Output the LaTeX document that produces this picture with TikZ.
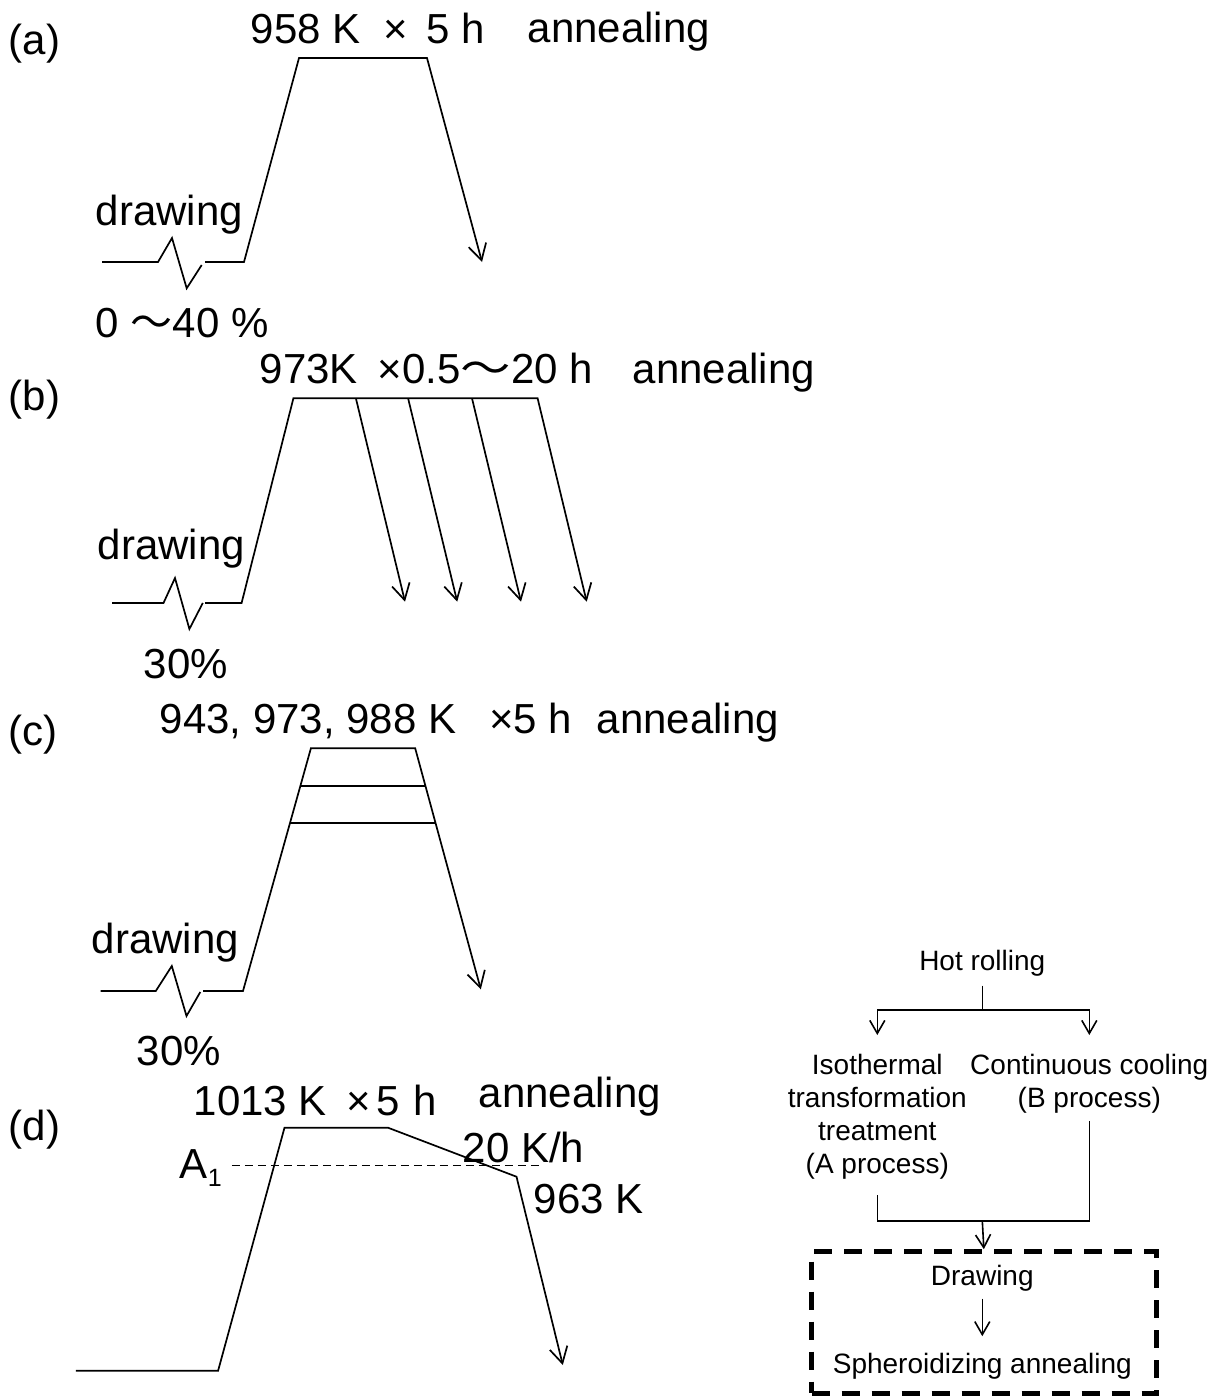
\documentclass[tikz,border=0pt]{standalone}
\usepackage{fontspec}
\setmainfont{Liberation Sans}
\newfontfamily\cjk{Noto Sans CJK JP}
\usetikzlibrary{arrows.meta}
\newcommand{\wave}{{\cjk ～}}
\newcommand{\widewave}{\scalebox{1.2}[1]{\cjk ～}}
\begin{document}
\begin{tikzpicture}[x=1pt, y=-1pt, line width=1.7pt, line join=miter,
  big/.style={font=\fontsize{42}{50}\selectfont, inner sep=0pt, anchor=base west},
  anneal/.style={big},
  small/.style={font=\fontsize{28}{33.1}\selectfont, inner sep=0pt},
  cool/.style={-{Straight Barb[length=16pt, width=18pt]}},
  flow/.style={line width=1.6pt},
  farrow/.style={flow, -{Straight Barb[length=13pt, width=15pt]}},
  frame/.style={draw, line width=5pt, dash pattern=on 18pt off 12pt, inner sep=0pt}]
\useasboundingbox (0,0) rectangle (1222,1398);

% ---------- (a) drawing + annealing at 958 K ----------
\node[big] (la) at (8,54) {(a)};
\node[big] (ta) at (250,43.3) {958 K\hspace{23pt}×\hspace{18pt}5 h};
\node[anneal] (aa) at (527,42) {annealing};
\node[big] (da) at (95,225) {drawing};
\node[big] (pa) at (95,337) {0 \wave40 \%};
\draw (102,262) -- (158,262) -- (172,238) -- (186.7,288.3) -- (201.7,265);
\draw[cool] (205,262) -- (244,262) -- (299,58) -- (427,58) -- (482,262);

% ---------- (b) holding time series at 973 K ----------
\node[big] (lb) at (8,410) {(b)};
\node[big] (tb) at (259,383) {973K\hspace{20pt}×0.5\widewave20 h};
\node[anneal] (ab) at (632,383) {annealing};
\node[big] (db) at (97,559) {drawing};
\node[big] (pb) at (143,678) {30\%};
\draw (112,603) -- (163.5,603) -- (175,578) -- (189.4,629) -- (202.8,603);
\draw[cool] (205,603) -- (241.6,603) -- (293.4,398.3) -- (537.6,398.3) -- (586.7,601.7);
\draw[cool] (355.9,398.3) -- (405,601.7);
\draw[cool] (408.1,398.3) -- (457.2,601.7);
\draw[cool] (472,398.3) -- (521,601.7);

% ---------- (c) three annealing temperatures ----------
\node[big] (lc) at (8,745) {(c)};
\node[big] (tc) at (159,733) {943, 973, 988 K\hspace{33pt}×5 h};
\node[anneal] (ac) at (596,733) {annealing};
\node[big] (dc) at (91,953) {drawing};
\node[big] (pc) at (136,1065) {30\%};
\draw (100.7,991) -- (155.8,991) -- (171.8,966) -- (186.5,1016) -- (200.3,992);
\draw[cool] (203,991) -- (243,991) -- (310.9,748.3) -- (415.2,748.3) -- (480.8,989.3);
\draw (300.4,786) -- (425.5,786);
\draw (289.9,823.3) -- (435.6,823.3);

% ---------- (d) annealing above A1 with slow cooling ----------
\node[big] (ld) at (8,1140) {(d)};
\node[big] (td) at (193,1115) {1013 K\hspace{20pt}×\hspace{5pt}5\hspace{14pt}h};
\node[anneal] (ad) at (478,1107) {annealing};
\node[big] (rate) at (462,1162) {20 K/h};
\node[big] (tend) at (533,1213) {963 K};
\node[big] (aone) at (179,1178) {A\raisebox{-8pt}{\fontsize{25}{30}\selectfont 1}};
\draw[line width=1.3pt, dash pattern=on 8pt off 5pt] (231.9,1165.3) -- (542.2,1165.3);
\draw[cool] (75.8,1370.7) -- (218.1,1370.7) -- (284.5,1127.7) -- (388,1127.7)
  -- (516.5,1176.7) -- (562.8,1365);

% ---------- process flow ----------
\node[small, anchor=base] (hot) at (982.3,970) {Hot rolling};
\node[small, anchor=north, align=center] (procA) at (877.3,1053)
  {Isothermal\\transformation\\treatment\\(A process)};
\node[small, anchor=north, align=center] (procB) at (1089.3,1053)
  {Continuous cooling\\(B process)};
\node[frame, minimum width=344.3pt, minimum height=141.6pt] (box) at (983.85,1322.5) {};
\node[small, anchor=base] (drw) at (982.3,1285) {Drawing};
\node[small, anchor=base] (sph) at (982.3,1373.3) {Spheroidizing annealing};

\coordinate (split) at (982.3,1010);
\coordinate (merge) at (982.3,1220.7);
\draw[flow] ([yshift=-9pt]hot.south) -- (split);
\draw[farrow] (split) -| ([yshift=18pt]procA.north);
\draw[farrow] (split) -| ([yshift=18pt]procB.north);
\draw[flow] ([yshift=-15pt]procA.south) |- (merge);
\draw[flow] ([yshift=-7pt]procB.south) |- (merge);
\draw[farrow] (merge) -- (box.north);
\draw[farrow] ([yshift=-7pt]drw.south) -- ([yshift=16pt]sph.north);
\end{tikzpicture}
\end{document}
